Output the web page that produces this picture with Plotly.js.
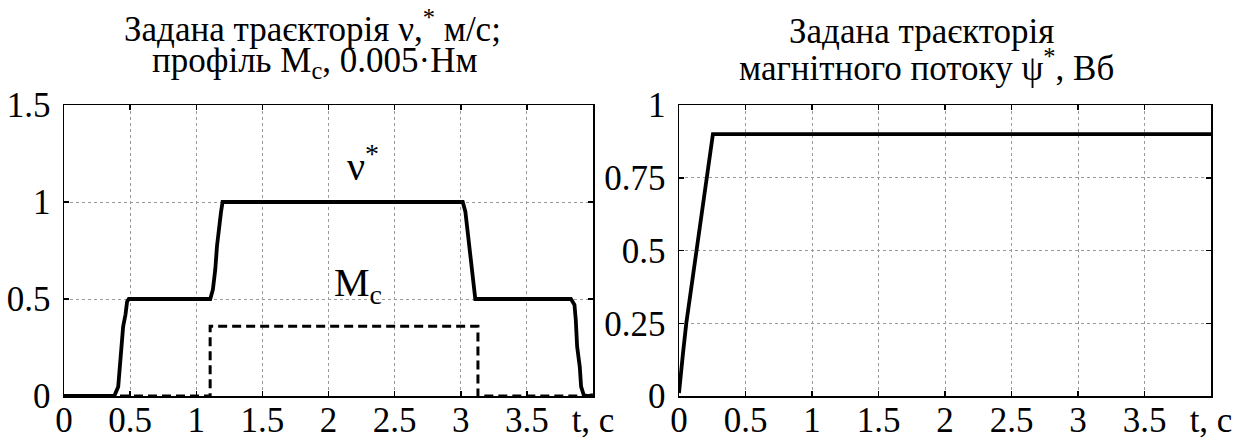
<!DOCTYPE html>
<html>
<head>
<meta charset="utf-8">
<script src="https://cdn.plot.ly/plotly-3.0.1.min.js"></script>
<style>html,body{margin:0;padding:0;background:#fff;}#chart{width:1248px;height:441px;}</style>
</head>
<body>
<div id="chart"></div>
<script>
// Left panel: reference speed trajectory nu* (m/s)
const tV = [0, 0.38, 0.41, 0.425, 0.447, 0.465, 0.477, 0.49, 1.106, 1.126, 1.144, 1.157, 1.169, 1.187, 1.199, 3.015, 3.035, 3.055, 3.07, 3.085, 3.10, 3.11, 3.833, 3.86, 3.87, 3.88, 3.90, 3.91, 3.93, 3.96, 4.0];
const vRef = [0, 0, 0.048, 0.186, 0.357, 0.42, 0.486, 0.5, 0.5, 0.549, 0.653, 0.774, 0.86, 0.947, 1.0, 1.0, 0.95, 0.83, 0.72, 0.63, 0.55, 0.5, 0.5, 0.47, 0.39, 0.255, 0.15, 0.048, 0.005, 0, 0.005];
// Left panel: load torque profile Mc (x0.005 N·m)
const tM = [0, 1.105, 1.105, 3.13, 3.13, 4];
const mC = [0, 0, 0.36, 0.36, 0, 0];
// Right panel: reference flux psi* (Wb)
const tPsi = [0, 0.005, 0.018, 0.03, 0.055, 0.08, 0.105, 0.13, 0.155, 0.18, 0.21, 0.23, 0.255, 4.0];
const psiRef = [0.01, 0.038, 0.078, 0.147, 0.251, 0.332, 0.412, 0.493, 0.585, 0.666, 0.758, 0.827, 0.9, 0.9];

const xTickVals = [0, 0.5, 1, 1.5, 2, 2.5, 3, 3.5, 4];
const xTickText = ['0', '0.5', '1', '1.5', '2', '2.5', '3', '3.5', 't, c'];
const yTickVals1 = [0, 0.5, 1, 1.5];
const yTickText1 = ['0', '0.5', '1', '1.5'];
const yTickVals2 = [0, 0.25, 0.5, 0.75, 1];
const yTickText2 = ['0', '0.25', '0.5', '0.75', '1'];

const FONT = 'Liberation Serif';
const TICK = 35;
const TITLE = 35;

const traces = [
  {x: tV, y: vRef, xaxis: 'x', yaxis: 'y', mode: 'lines', line: {color: '#000', width: 3.8}, hoverinfo: 'skip'},
  {x: tM, y: mC, xaxis: 'x', yaxis: 'y', mode: 'lines', line: {color: '#000', width: 3, dash: '9px,5px'}, hoverinfo: 'skip'},
  {x: tPsi, y: psiRef, xaxis: 'x2', yaxis: 'y2', mode: 'lines', line: {color: '#000', width: 3.8}, hoverinfo: 'skip'}
];

function xax(domain, anchor) {
  return {
    domain: domain, anchor: anchor, range: [0, 4], tickvals: xTickVals, ticktext: xTickText,
    ticks: 'inside', ticklen: 5, tickwidth: 1.5, tickcolor: '#000',
    showline: true, linecolor: '#000', linewidth: 1.5, mirror: 'ticks',
    showgrid: true, gridcolor: '#9a9a9a', gridwidth: 1, griddash: 'dot',
    zeroline: false, tickfont: {family: FONT, size: TICK, color: '#000'}, ticklabelstandoff: -8
  };
}
function yax(domain, anchor, range, vals, text) {
  return {
    domain: domain, anchor: anchor, range: range, tickvals: vals, ticktext: text,
    ticks: 'inside', ticklen: 5, tickwidth: 1.5, tickcolor: '#000',
    showline: true, linecolor: '#000', linewidth: 1.5, mirror: 'ticks',
    showgrid: true, gridcolor: '#9a9a9a', gridwidth: 1, griddash: 'dot',
    zeroline: false, tickfont: {family: FONT, size: TICK, color: '#000'}, ticklabelstandoff: 5
  };
}

const yDom = [45/441, 336/441];

const layout = {
  width: 1248, height: 441,
  margin: {l: 0, r: 0, t: 0, b: 0},
  paper_bgcolor: '#fff', plot_bgcolor: '#fff',
  showlegend: false,
  font: {family: FONT, color: '#000'},
  xaxis: xax([64/1248, 593/1248], 'y'),
  yaxis: yax(yDom, 'x', [0, 1.5], yTickVals1, yTickText1),
  xaxis2: xax([679/1248, 1211/1248], 'y2'),
  yaxis2: yax(yDom, 'x2', [0, 1], yTickVals2, yTickText2),
  annotations: [
    {text: 'Задана траєкторія ν,<sup>*</sup> м/с;', xref: 'paper', yref: 'paper', x: 312/1248, y: (441-27)/441, xanchor: 'center', yanchor: 'middle', showarrow: false, font: {family: FONT, size: TITLE, color: '#000'}},
    {text: 'профіль M<sub>c</sub>, 0.005·Нм', xref: 'paper', yref: 'paper', x: 315/1248, y: (441-62)/441, xanchor: 'center', yanchor: 'middle', showarrow: false, font: {family: FONT, size: TITLE, color: '#000'}},
    {text: 'Задана траєкторія', xref: 'paper', yref: 'paper', x: 921/1248, y: (441-31)/441, xanchor: 'center', yanchor: 'middle', showarrow: false, font: {family: FONT, size: TITLE, color: '#000'}},
    {text: 'магнітного потоку ψ<sup>*</sup>, Вб', xref: 'paper', yref: 'paper', x: 926/1248, y: (441-65)/441, xanchor: 'center', yanchor: 'middle', showarrow: false, font: {family: FONT, size: TITLE, color: '#000'}},
    {text: 'ν<sup>*</sup>', xref: 'x', yref: 'y', x: 2.26, y: 1.2, xanchor: 'center', yanchor: 'middle', showarrow: false, font: {family: FONT, size: 40, color: '#000'}},
    {text: 'M<sub>c</sub>', xref: 'x', yref: 'y', x: 2.22, y: 0.57, xanchor: 'center', yanchor: 'middle', showarrow: false, font: {family: FONT, size: 40, color: '#000'}}
  ]
};

Plotly.newPlot('chart', traces, layout, {staticPlot: true, displayModeBar: false});
</script>
</body>
</html>
